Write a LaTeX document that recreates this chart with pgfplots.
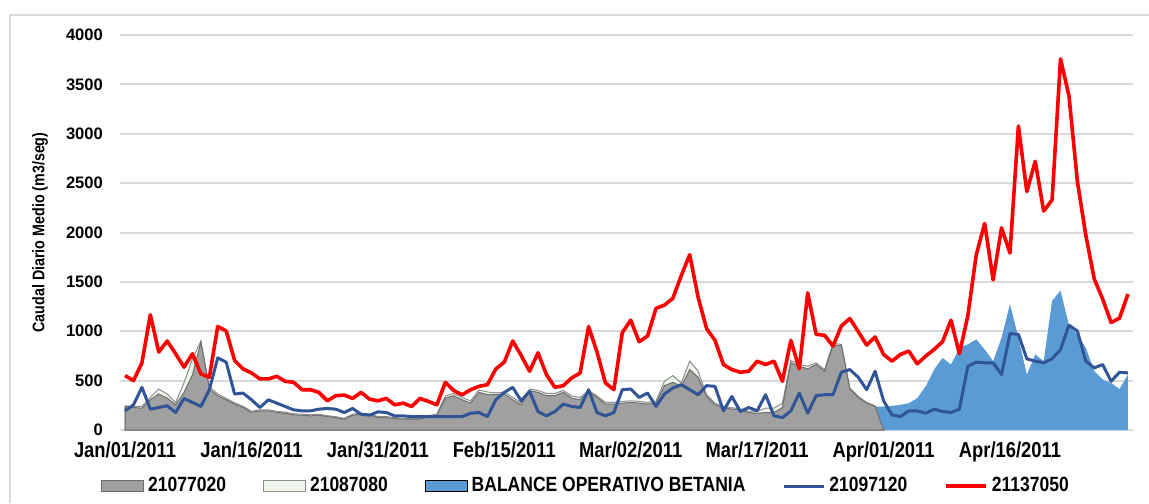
\documentclass[border=0pt]{standalone}
\usepackage{fontspec}
\setmainfont{Liberation Sans}
\newfontfamily\narrowfont{Liberation Sans}[FakeStretch=0.85]
\usepackage{pgfplots}
\usepackage{pgfplotstable}
\pgfplotsset{compat=1.18}
\definecolor{grayfill}{HTML}{A0A0A0}
\definecolor{grayedge}{HTML}{6E6E6E}
\definecolor{lightfill}{HTML}{EEF5EA}
\definecolor{lightedge}{HTML}{8C8C8C}
\definecolor{balfill}{HTML}{5B9BD5}
\definecolor{blueline}{HTML}{2F5597}
\definecolor{redline}{HTML}{FF0000}
\definecolor{gridc}{HTML}{D9D9D9}
\pgfplotsset{
  arealeg/.style={legend image code/.code={\draw[##1] (0pt,-2.6pt) rectangle (21pt,2.6pt);}},
  lineleg/.style={legend image code/.code={\draw[##1] (0pt,0pt) -- (20pt,0pt);}},
}
\pgfplotstableread{
d red blue
0 551 194
1 500 255
2 680 432
3 1167 211
4 789 228
5 901 245
6 772 177
7 636 320
8 772 279
9 568 238
10 534 408
11 1048 731
12 1003 687
13 704 364
14 619 374
15 578 306
16 517 228
17 517 306
18 544 272
19 493 238
20 483 204
21 408 194
22 408 194
23 381 211
24 296 218
25 347 211
26 354 177
27 320 218
28 381 160
29 313 150
30 296 184
31 320 177
32 255 143
33 272 143
34 238 136
35 320 136
36 289 136
37 255 136
38 483 136
39 400 136
40 357 136
41 408 170
42 442 177
43 459 136
44 619 306
45 687 381
46 901 432
47 755 296
48 595 391
49 782 187
50 561 143
51 432 187
52 449 262
53 527 238
54 578 228
55 1048 408
56 789 177
57 476 143
58 408 177
59 986 408
60 1112 415
61 894 330
62 952 374
63 1231 238
64 1265 364
65 1333 425
66 1564 459
67 1775 408
68 1343 357
69 1027 449
70 908 442
71 663 194
72 612 340
73 585 187
74 595 228
75 697 194
76 663 357
77 697 143
78 493 126
79 908 194
80 619 374
81 1388 170
82 969 347
83 959 357
84 850 357
85 1054 585
86 1129 612
87 996 534
88 860 408
89 942 595
90 765 296
91 697 153
92 765 136
93 799 194
94 670 194
95 748 170
96 816 211
97 894 187
98 1112 177
99 772 211
100 1156 646
101 1775 687
102 2092 680
103 1520 680
104 2047 561
105 1792 976
106 3078 969
107 2415 721
108 2721 697
109 2217 680
110 2330 721
111 3758 816
112 3384 1061
113 2517 1003
114 1973 697
115 1530 629
116 1326 663
117 1088 493
118 1133 585
119 1377 578
}\lines
\pgfplotstableread{
d gray light
0 238 245
1 228 235
2 221 240
3 306 330
4 364 415
5 323 364
6 255 279
7 380 480
8 560 720
9 891 900
10 415 440
11 347 365
12 306 320
13 262 275
14 228 240
15 177 190
16 194 205
17 194 205
18 177 190
19 170 180
20 153 165
21 150 160
22 143 155
23 150 160
24 136 145
25 126 135
26 109 118
27 150 160
28 160 170
29 153 163
30 126 136
31 126 136
32 116 126
33 109 118
34 109 118
35 109 118
36 136 145
37 153 160
38 323 345
39 347 370
40 306 330
41 272 295
42 381 405
43 357 385
44 357 375
45 364 385
46 306 330
47 255 275
48 398 415
49 381 400
50 347 370
51 347 370
52 381 400
53 323 345
54 306 330
55 391 400
56 330 345
57 262 280
58 262 280
59 272 290
60 279 295
61 272 290
62 262 280
63 272 290
64 449 493
65 483 551
66 442 476
67 612 697
68 534 595
69 340 357
70 255 272
71 228 240
72 211 225
73 204 215
74 177 190
75 170 190
76 177 221
77 177 221
78 228 272
79 680 704
80 646 663
81 619 646
82 663 680
83 595 612
84 857 877
85 857 867
86 415 425
87 330 340
88 272 279
89 238 245
90 0 0
}\areas
\pgfplotstableread{
d bal
89 238
90 238
91 245
92 255
93 272
94 323
95 442
96 612
97 731
98 663
99 833
100 867
101 918
102 816
103 697
104 935
105 1275
106 935
107 561
108 765
109 697
110 1309
111 1411
112 1061
113 969
114 833
115 595
116 510
117 476
118 415
119 561
}\balance
\begin{document}
\begin{tikzpicture}
\path[use as bounding box] (0,0) rectangle (574.5pt,251.5pt);
\draw[gridc, line width=1pt] (5pt,0pt) -- (5pt,244pt) -- (574.5pt,244pt);
\begin{axis}[
  at={(60pt,36.5pt)}, anchor=south west,
  scale only axis, width=506.5pt, height=197.5pt,
  xmin=-0.6, xmax=119.6, ymin=0, ymax=4000,
  xtick={0,15,30,45,60,75,90,105},
  xticklabels={Jan/01/2011,Jan/16/2011,Jan/31/2011,Feb/15/2011,Mar/02/2011,Mar/17/2011,Apr/01/2011,Apr/16/2011},
  ytick={0,500,...,4000},
  ymajorgrids, major grid style={gridc, line width=1pt},
  major tick length=0pt,
  axis line style={draw=none},
  /pgf/number format/assume math mode=true,
  /pgf/number format/1000 sep={},
  yticklabel style={font=\fontsize{8.3}{10}\selectfont\bfseries, xshift=-5pt},
  xticklabel style={font=\narrowfont\fontsize{10.8}{12}\selectfont\bfseries, yshift=-2.5pt},
  ylabel={Caudal Diario Medio (m3/seg)},
  ylabel style={at={(axis description cs:-0.079,0.5)}, anchor=center, font=\narrowfont\fontsize{8.4}{10}\selectfont\bfseries},
  legend columns=5,
  legend style={at={(axis description cs:0.461,-0.142)}, anchor=center, draw=none, fill=none,
    font=\narrowfont\fontsize{10.3}{12}\selectfont\bfseries,
    /tikz/every even column/.append style={column sep=16.5pt},
    legend cell align=left, inner sep=0pt},
]
\addplot[fill=balfill, draw=none, forget plot] table[x=d,y=bal] {\balance} \closedcycle;
\addplot[fill=lightfill, draw=lightedge, line width=0.5pt, forget plot] table[x=d,y=light] {\areas} \closedcycle;
\addplot[fill=grayfill, draw=grayedge, line width=0.5pt, forget plot] table[x=d,y=gray] {\areas} \closedcycle;
\addplot[blueline, line width=1.5pt, line join=round, forget plot] table[x=d,y=blue] {\lines};
\addplot[redline, line width=1.8pt, line join=round, forget plot] table[x=d,y=red] {\lines};
\addlegendimage{arealeg, fill=grayfill, draw=grayedge, line width=0.5pt}
\addlegendentry{21077020}
\addlegendimage{arealeg, fill=lightfill, draw=lightedge, line width=0.5pt}
\addlegendentry{21087080}
\addlegendimage{arealeg, fill=balfill, draw=none}
\addlegendentry{BALANCE OPERATIVO BETANIA}
\addlegendimage{lineleg, blueline, line width=1.5pt}
\addlegendentry{21097120}
\addlegendimage{lineleg, redline, line width=1.8pt}
\addlegendentry{21137050}
\end{axis}
\end{tikzpicture}
\end{document}
